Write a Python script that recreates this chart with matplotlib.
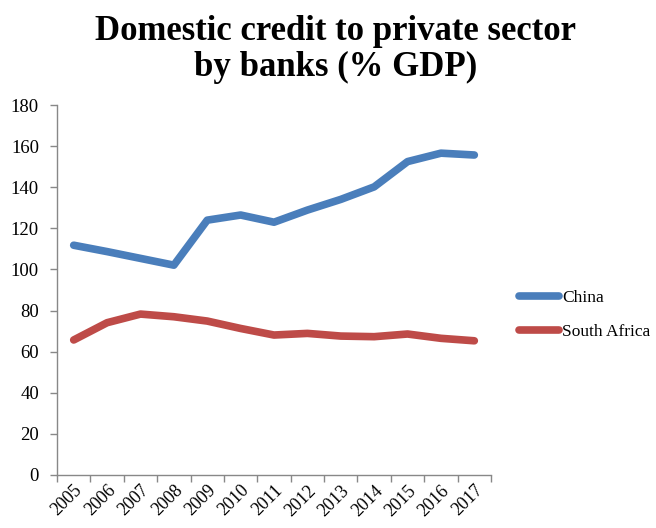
import matplotlib
matplotlib.use("Agg")
import matplotlib.pyplot as plt
import numpy as np

years = ["2005", "2006", "2007", "2008", "2009", "2010", "2011",
         "2012", "2013", "2014", "2015", "2016", "2017"]
china = [111.8, 108.7, 105.4, 102.1, 124.0, 126.5, 123.0,
         128.9, 134.1, 140.2, 152.5, 156.6, 155.7]
south_africa = [65.7, 74.1, 78.3, 77.0, 74.9, 71.3, 68.1,
                68.9, 67.6, 67.3, 68.6, 66.5, 65.3]
yticks = [0, 20, 40, 60, 80, 100, 120, 140, 160, 180]

plt.rcParams['font.family'] = ['Liberation Serif', 'DejaVu Serif']

fig = plt.figure(figsize=(6.56, 5.28), dpi=100)
ax = fig.add_axes([0.0869, 0.1004, 0.7485 - 0.0869, 0.801 - 0.1004])

x = np.arange(len(years))
ax.plot(x, china, color='#4a7ebb', lw=5.5, solid_capstyle='round', solid_joinstyle='round', label='China')
ax.plot(x, south_africa, color='#be4b48', lw=5.5, solid_capstyle='round', solid_joinstyle='round', label='South Africa')

ax.set_xlim(-0.5, len(years) - 0.5)
ax.set_ylim(0, 180)
ax.set_yticks(yticks)
ax.set_yticklabels([str(v) for v in yticks], fontsize=13.5)
ax.set_xticks(np.arange(-0.5, len(years), 1.0))
ax.set_xticklabels([])
ax.set_xticks(x, minor=True)
ax.set_xticklabels(years, minor=True, rotation=45, ha='right', rotation_mode='anchor', fontsize=13)
ax.tick_params(axis='x', which='minor', length=0, pad=5)
ax.tick_params(axis='x', which='major', length=5, color='#888888', width=1)
ax.tick_params(axis='y', length=5, color='#888888', width=1, pad=8)

for s in ['top', 'right']:
    ax.spines[s].set_visible(False)
for s in ['left', 'bottom']:
    ax.spines[s].set_color('#888888')
    ax.spines[s].set_linewidth(1)

fig.text(0.512, 0.856, "Domestic credit to private sector\nby banks (% GDP)",
         ha='center', va='baseline', fontsize=25, fontweight='bold', linespacing=1.1)

leg = fig.legend(loc='center left', bbox_to_anchor=(0.768, 0.403), frameon=False,
                 fontsize=12.5, handlelength=2.3, handletextpad=0.15, labelspacing=1.05)

fig.savefig("out.png", dpi=100)
